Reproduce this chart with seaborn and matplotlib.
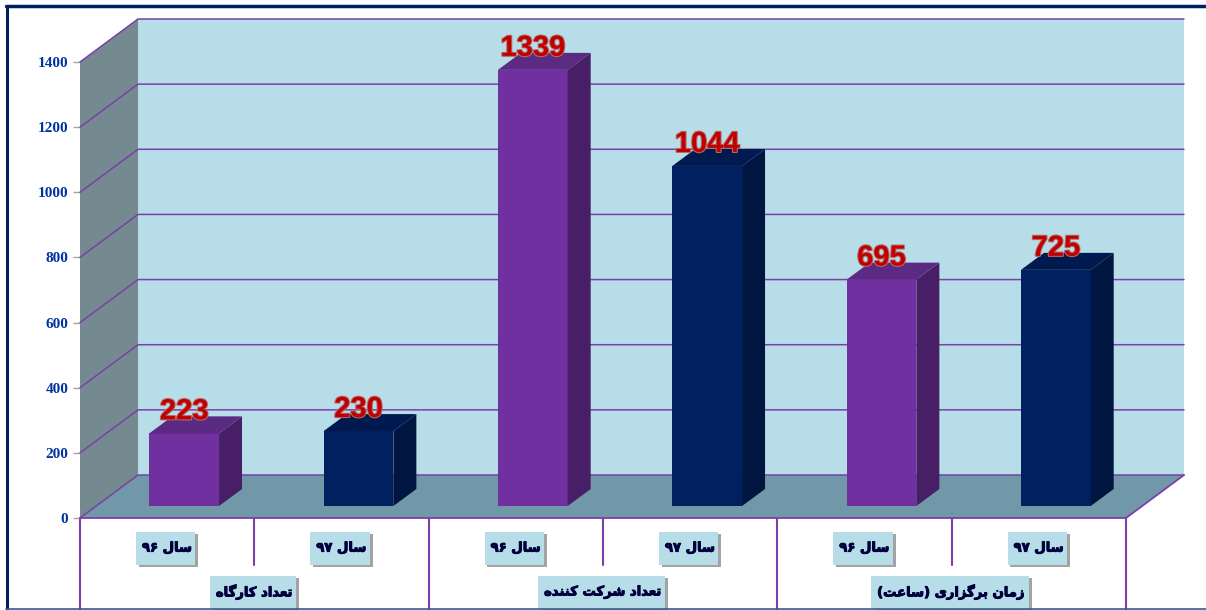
import matplotlib
matplotlib.use("Agg")
import matplotlib.pyplot as plt
import matplotlib.patheffects as pe
from matplotlib.lines import Line2D
from matplotlib.patches import Polygon, Rectangle
from matplotlib.transforms import IdentityTransform
import pandas as pd
import seaborn as sns

# data
years = ["سال ۹۶", "سال ۹۷", "سال ۹۶", "سال ۹۷", "سال ۹۶", "سال ۹۷"]
groups = ["تعداد کارگاه", "تعداد شرکت کننده", "زمان برگزاری (ساعت)"]
values = [223, 230, 1339, 1044, 695, 725]
y_ticks = [0, 200, 400, 600, 800, 1000, 1200, 1400]

PURPLE = "#7030a0"
NAVY = "#002060"
TOP = {PURPLE: "#5b2a82", NAVY: "#001a50"}
SIDE = {PURPLE: "#481f66", NAVY: "#00153f"}
GRID = "#7a3fa8"

# matplotlib has no arabic shaping, so join the letters by hand
# letter: isolated, final, initial, medial
FORMS = {
    "ا": "\ufe8d\ufe8e", "د": "\ufea9\ufeaa", "ر": "\ufead\ufeae", "ز": "\ufeaf\ufeb0",
    "ب": "\ufe8f\ufe90\ufe91\ufe92", "ت": "\ufe95\ufe96\ufe97\ufe98",
    "س": "\ufeb1\ufeb2\ufeb3\ufeb4", "ش": "\ufeb5\ufeb6\ufeb7\ufeb8",
    "ع": "\ufec9\ufeca\ufecb\ufecc", "ل": "\ufedd\ufede\ufedf\ufee0",
    "م": "\ufee1\ufee2\ufee3\ufee4", "ن": "\ufee5\ufee6\ufee7\ufee8",
    "ه": "\ufee9\ufeea\ufeeb\ufeec", "ک": "\ufb8e\ufb8f\ufb90\ufb91",
    "گ": "\ufb92\ufb93\ufb94\ufb95", "ی": "\ufbfc\ufbfd\ufbfe\ufbff",
}


def shape(text):
    words = []
    for word in text.split(" "):
        if word[0] in "۰۱۲۳۴۵۶۷۸۹":
            words.append(word)
            continue
        out = []
        for i, ch in enumerate(word):
            if ch not in FORMS:
                out.append({"(": ")", ")": "("}.get(ch, ch))
                continue
            before = i > 0 and word[i - 1] in FORMS and len(FORMS[word[i - 1]]) == 4
            after = i < len(word) - 1 and word[i + 1] in FORMS and len(FORMS[ch]) == 4
            if before and after:
                out.append(FORMS[ch][3])
            elif before:
                out.append(FORMS[ch][1])
            elif after:
                out.append(FORMS[ch][2])
            else:
                out.append(FORMS[ch][0])
        words.append("".join(reversed(out)))
    return " ".join(reversed(words))


sns.set_theme(style="white")
plt.rcParams["font.family"] = ["DejaVu Sans"]

fig = plt.figure(figsize=(12.06, 6.10), dpi=100)
ax = fig.add_axes([80 / 1206, (610 - 518) / 610, 1046 / 1206, 456 / 610])

df = pd.DataFrame({"pos": [str(i) for i in range(6)], "value": values, "year": years})
sns.barplot(data=df, x="pos", y="value", hue="year", palette=[PURPLE, NAVY], saturation=1,
            dodge=False, width=0.4, legend=False, linewidth=0, ax=ax, zorder=5)
bars = sorted([p for c in ax.containers for p in c], key=lambda p: p.get_x())
ax.set_xlim(-0.5, 5.5)
ax.set_ylim(0, 1400)
ax.patch.set_alpha(0)
sns.despine(ax=ax, left=True, bottom=True)

# pixel offsets turned into data units
ux = 6 / 1046
uy = 1400 / 456
wall_x, wall_y = 58 * ux, 43 * uy
floor_x, floor_y = 17 * ux, 12 * uy
deep_x, deep_y = 23 * ux, 17 * uy

# room: side wall, floor, back wall
ax.add_patch(Polygon([(-0.5, 0), (-0.5 + wall_x, wall_y), (-0.5 + wall_x, 1400 + wall_y), (-0.5, 1400)],
                     fc="#748a90", ec="none", clip_on=False, zorder=1))
ax.add_patch(Polygon([(-0.5 + wall_x, wall_y), (5.5 + wall_x, wall_y), (5.5 + wall_x, 1400 + wall_y),
                      (-0.5 + wall_x, 1400 + wall_y)], fc="#b7dee8", ec="none", clip_on=False, zorder=1))
ax.add_patch(Polygon([(-0.5, 0), (5.5, 0), (5.5 + wall_x, wall_y), (-0.5 + wall_x, wall_y)],
                     fc="#7098a8", ec="none", clip_on=False, zorder=2))

for t in y_ticks:
    ax.plot([-0.5, -0.5 + wall_x, 5.5 + wall_x], [t, t + wall_y, t + wall_y], color=GRID, lw=1.1,
            clip_on=False, zorder=3)
ax.plot([-0.5, 5.5, 5.5 + wall_x], [0, 0, wall_y], color=GRID, lw=1.3, clip_on=False, zorder=4)

# bars: the seaborn patch is the front face, pushed back onto the floor
for bar, val in zip(bars, values):
    bar.set_x(bar.get_x() + floor_x)
    bar.set_y(floor_y)
    bar.set_clip_on(False)
    color = PURPLE if bar.get_facecolor()[0] > 0.2 else NAVY
    x0, x1 = bar.get_x(), bar.get_x() + bar.get_width()
    y0, y1 = floor_y, floor_y + val
    ax.add_patch(Polygon([(x1, y0), (x1 + deep_x, y0 + deep_y), (x1 + deep_x, y1 + deep_y), (x1, y1)],
                         fc=SIDE[color], ec="none", clip_on=False, zorder=5))
    ax.add_patch(Polygon([(x0, y1), (x1, y1), (x1 + deep_x, y1 + deep_y), (x0 + deep_x, y1 + deep_y)],
                         fc=TOP[color], ec="none", clip_on=False, zorder=5))
    ax.text((x0 + x1) / 2, y1 + 14 * uy, str(val), ha="center", va="baseline", color="#c00000",
            fontsize=21, fontweight="bold", family="Liberation Sans", zorder=7,
            path_effects=[pe.withStroke(linewidth=1.5, foreground="#b86a6a")])

# y axis
ax.set_yticks(y_ticks)
ax.set_ylabel("")
ax.set_xlabel("")
ax.tick_params(axis="y", left=True, length=5, width=1, color="#a6a6a6", pad=3.5)
for lab in ax.get_yticklabels():
    lab.set_family("Liberation Serif")
    lab.set_fontweight("bold")
    lab.set_fontsize(11)
    lab.set_color("#0033a0")

# x axis: year labels as ticks, group labels underneath
heavy = [pe.withStroke(linewidth=0.7, foreground="#00003c")]
shadow = [pe.SimplePatchShadow(offset=(2, -2), shadow_rgbFace="#666666", alpha=0.6), pe.Normal()]

ax.set_xticks(range(6))
ax.set_xticklabels([shape(y) for y in years])
ax.tick_params(axis="x", bottom=False, pad=11)
for lab in ax.get_xticklabels():
    lab.set_fontweight("bold")
    lab.set_fontsize(9.5)
    lab.set_color("#00003c")
    lab.set_path_effects(heavy)

group_labels = []
for i, name in enumerate(groups):
    group_labels.append(ax.text(2 * i + 0.5, -74 * uy, shape(name), ha="center", va="center", color="#00003c",
                                fontsize=9.5, fontweight="bold", clip_on=False, path_effects=heavy, zorder=3))

# light blue cards behind the labels: snug in width, tall in height
fig.canvas.draw()
for lab in list(ax.get_xticklabels()) + group_labels:
    ext = lab.get_window_extent()
    w = ext.width + 9
    h = 33
    ax.add_patch(Rectangle((ext.x0 - 6, (ext.y0 + ext.y1) / 2 - h / 2), w, h, transform=IdentityTransform(),
                           fc="#b7dee8", ec="none", clip_on=False, zorder=0.2, path_effects=shadow))

# separators under the axis
for i in range(7):
    bottom = -92 * uy if i % 2 == 0 else -47 * uy
    ax.plot([i - 0.5, i - 0.5], [0, bottom], color=GRID, lw=1.5, clip_on=False, zorder=0.1)

# slide frame
fig.add_artist(Line2D([6.5 / 1206, 6.5 / 1206], [1 / 610, 604 / 610], color=NAVY, lw=2.2))
fig.add_artist(Line2D([6 / 1206, 1], [604 / 610, 604 / 610], color=NAVY, lw=2.5))
fig.add_artist(Line2D([6 / 1206, 1], [1 / 610, 1 / 610], color="#3a5a94", lw=1.2))

fig.savefig("out.png", dpi=100)
